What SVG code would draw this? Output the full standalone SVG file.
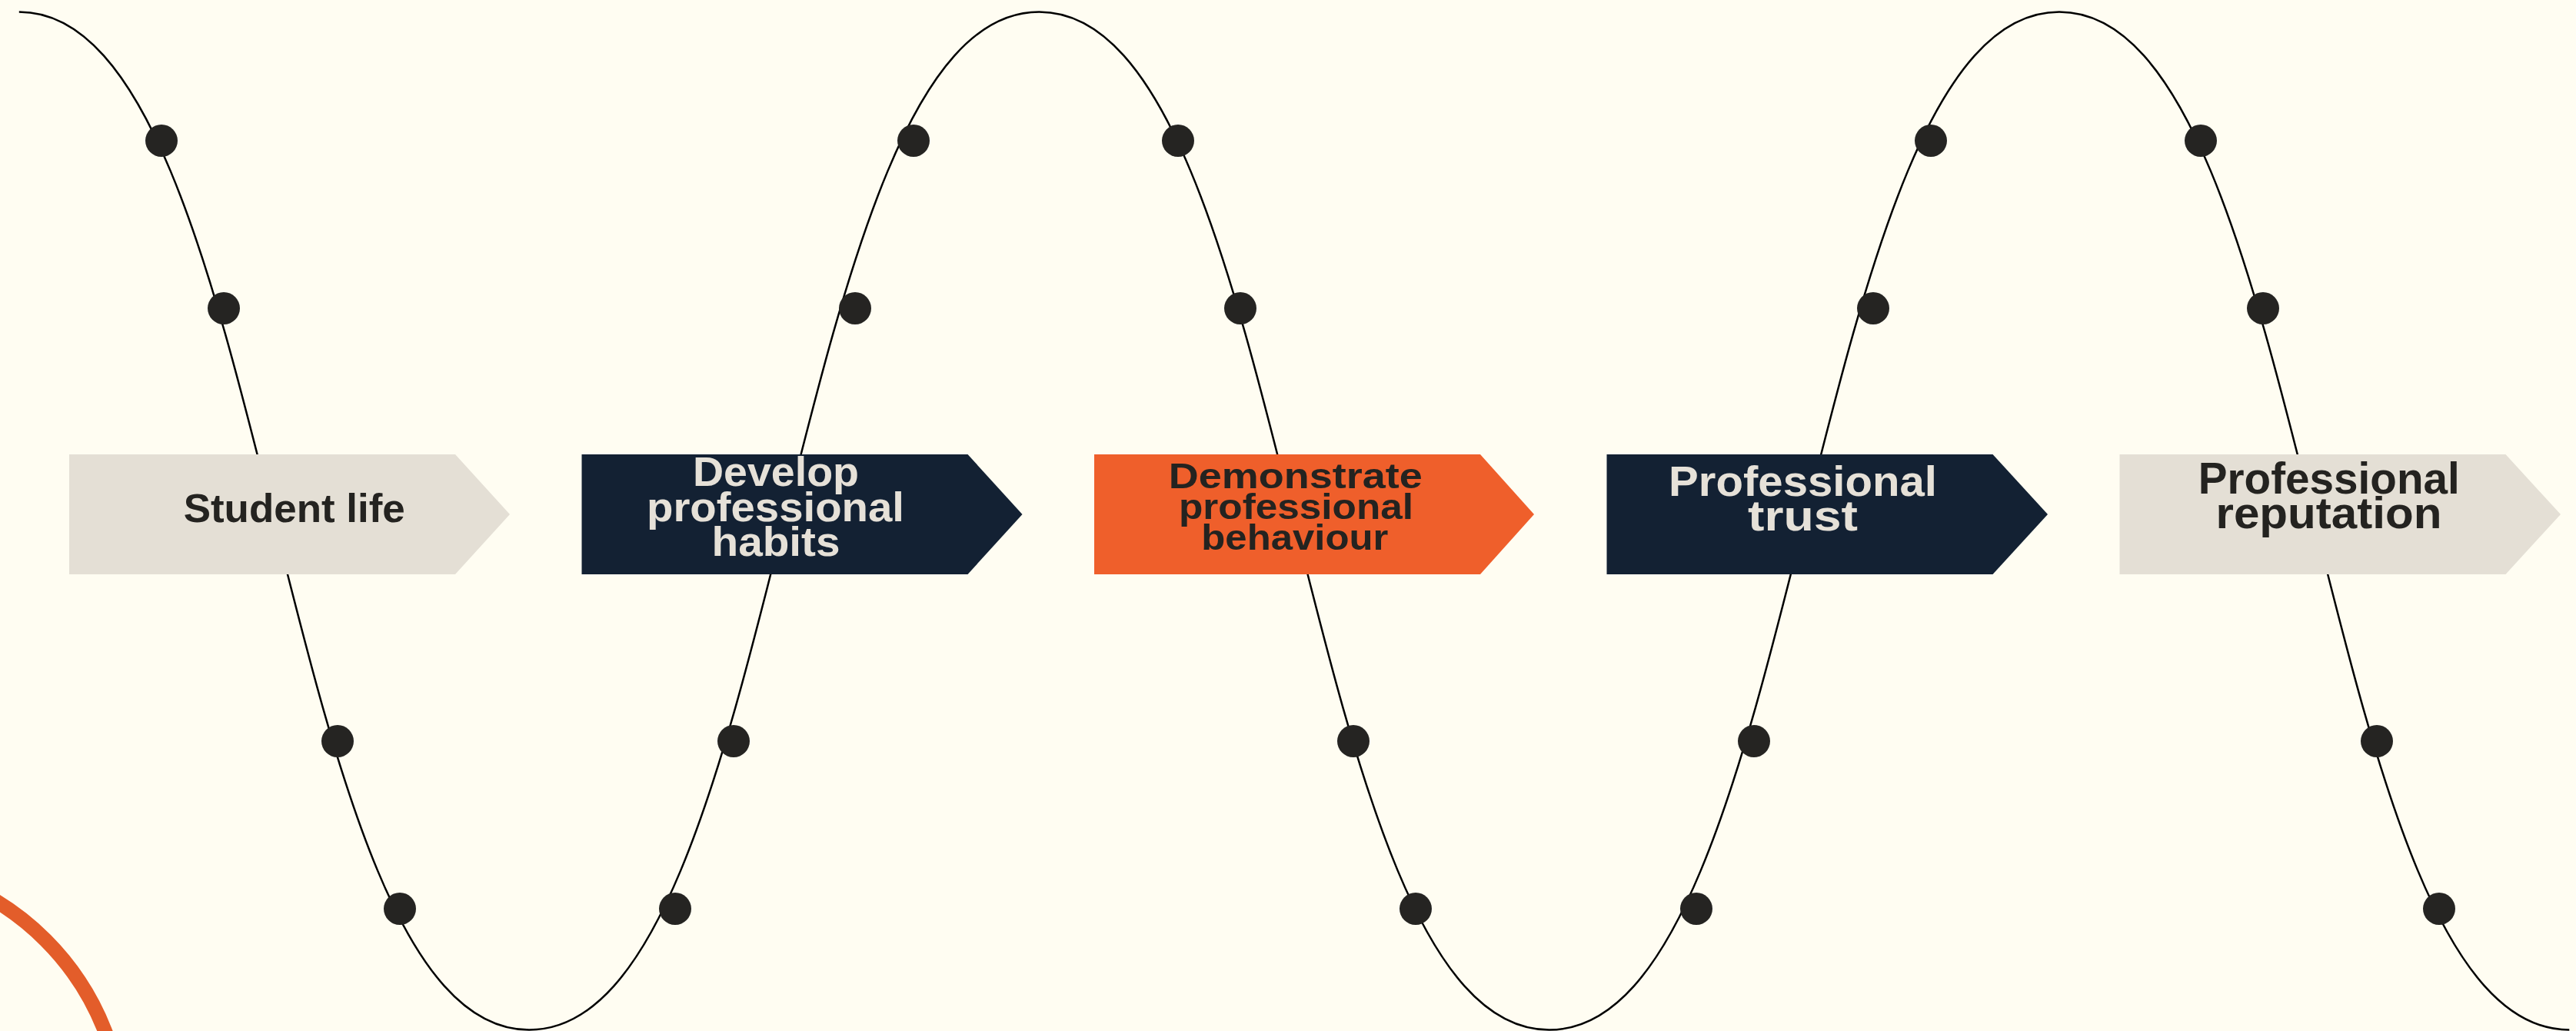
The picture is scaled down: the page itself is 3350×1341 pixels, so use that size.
<svg xmlns="http://www.w3.org/2000/svg" width="3350" height="1341" viewBox="0 0 3350 1341">
<style>
.bg{fill:#FFFDF2}
.wave{fill:none;stroke:#000000;stroke-width:2.5}
.dot{fill:#252422}
.light{fill:#E4DFD5}
.navy{fill:#132133}
.orange{fill:#EF5F2B}
.t{font-family:"Liberation Sans",Arial,sans-serif;font-weight:700;text-anchor:middle}
.td{fill:#242320}
.tl{fill:#E6E1D8}
.arc{fill:none;stroke:#E35D2A;stroke-width:19}
</style>
<rect class="bg" x="0" y="0" width="3350" height="1341"/>
<circle class="arc" cx="-184" cy="1466" r="344"/>
<g id="connectors">
<path class="wave" d="M 24.8 15.5 C 356.45 15.5 356.45 1339.5 688.1 1339.5 S 1019.75 15.5 1351.4 15.5 S 1683.05 1339.5 2014.7 1339.5 S 2346.35 15.5 2678 15.5 S 3009.65 1339.5 3341.3 1339.5"/>
</g>
<g id="wave-dots">
<circle class="dot" cx="210" cy="183" r="21"/>
<circle class="dot" cx="291" cy="401" r="21"/>
<circle class="dot" cx="439" cy="964" r="21"/>
<circle class="dot" cx="520" cy="1182" r="21"/>
<circle class="dot" cx="878" cy="1182" r="21"/>
<circle class="dot" cx="954" cy="964" r="21"/>
<circle class="dot" cx="1112" cy="401" r="21"/>
<circle class="dot" cx="1188" cy="183" r="21"/>
<circle class="dot" cx="1532" cy="183" r="21"/>
<circle class="dot" cx="1613" cy="401" r="21"/>
<circle class="dot" cx="1760" cy="964" r="21"/>
<circle class="dot" cx="1841" cy="1182" r="21"/>
<circle class="dot" cx="2206" cy="1182" r="21"/>
<circle class="dot" cx="2281" cy="964" r="21"/>
<circle class="dot" cx="2436" cy="401" r="21"/>
<circle class="dot" cx="2511" cy="183" r="21"/>
<circle class="dot" cx="2862" cy="183" r="21"/>
<circle class="dot" cx="2943" cy="401" r="21"/>
<circle class="dot" cx="3091" cy="964" r="21"/>
<circle class="dot" cx="3172" cy="1182" r="21"/>
</g>
<g id="node-student-life">
<polygon class="light" points="90,591 592,591 663,669 592,747 90,747"/>
<text class="t td" x="382.7" y="679" font-size="52" textLength="288" lengthAdjust="spacingAndGlyphs">Student life</text>
</g>
<g id="node-develop">
<polygon class="navy" points="756.5,591 1258.5,591 1329.5,669 1258.5,747 756.5,747"/>
<text class="t tl" font-size="53"><tspan x="1009" y="632" textLength="216" lengthAdjust="spacingAndGlyphs">Develop</tspan><tspan x="1008.5" y="678" textLength="335" lengthAdjust="spacingAndGlyphs">professional</tspan><tspan x="1009" y="723" textLength="167" lengthAdjust="spacingAndGlyphs">habits</tspan></text>
</g>
<g id="node-demonstrate">
<polygon class="orange" points="1423,591 1925,591 1995,669 1925,747 1423,747"/>
<text class="t td" font-size="46"><tspan x="1684.7" y="635.4" textLength="330" lengthAdjust="spacingAndGlyphs">Demonstrate</tspan><tspan x="1685.5" y="674.7" textLength="305" lengthAdjust="spacingAndGlyphs">professional</tspan><tspan x="1683.8" y="714.8" textLength="243" lengthAdjust="spacingAndGlyphs">behaviour</tspan></text>
</g>
<g id="node-trust">
<polygon class="navy" points="2089.5,591 2591.5,591 2663,669 2591.5,747 2089.5,747"/>
<text class="t tl" font-size="56"><tspan x="2344.5" y="645" textLength="349" lengthAdjust="spacingAndGlyphs">Professional</tspan><tspan x="2344.5" y="690" textLength="143" lengthAdjust="spacingAndGlyphs">trust</tspan></text>
</g>
<g id="node-reputation">
<polygon class="light" points="2756.5,591 3258.5,591 3330,669 3258.5,747 2756.5,747"/>
<text class="t td" font-size="58"><tspan x="3028.8" y="641.7" textLength="340" lengthAdjust="spacingAndGlyphs">Professional</tspan><tspan x="3028.5" y="686.7" textLength="294" lengthAdjust="spacingAndGlyphs">reputation</tspan></text>
</g>
</svg>
